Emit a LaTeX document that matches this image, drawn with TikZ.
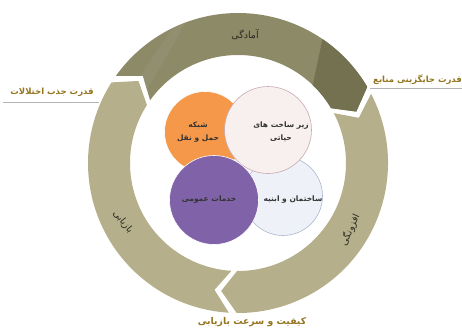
\documentclass[tikz,border=0pt]{standalone}
\usepackage{fontspec}
\newfontfamily\arabicfont[Script=Arabic]{DejaVu Sans}
\TeXXeTstate=1
\newcommand{\fa}[1]{\beginR #1\endR}
\definecolor{segdark}{HTML}{8D8A68}
\definecolor{segdeep}{HTML}{737150}
\definecolor{segstripe}{HTML}{99957A}
\definecolor{seglight}{HTML}{B5B08B}
\definecolor{goldtext}{HTML}{94741F}
\definecolor{ringtext}{HTML}{2A2A20}
\definecolor{orangefill}{HTML}{F6984A}
\definecolor{purplefill}{HTML}{7F62A8}
\definecolor{pinkfill}{HTML}{F8EFEF}
\definecolor{pinkline}{HTML}{C9A9B1}
\definecolor{bluefill}{HTML}{EEF2F8}
\definecolor{blueline}{HTML}{A9B7CE}
\definecolor{ruleline}{HTML}{B4B4B4}
\newcommand{\segpath}[2]{(#1-1.5:150) arc[start angle=#1-1.5, end angle=#2+1.5, radius=150] -- (#2+1.5-7:129) -- (#2+1.5:108) arc[start angle=#2+1.5, end angle=#1-1.5, radius=108] -- (#1-1.5-7:129) -- cycle}
\begin{document}
\begin{tikzpicture}[x=1pt,y=1pt,
  ringlbl/.style={font=\arabicfont\fontsize{9.5}{11}\selectfont, text=ringtext, inner sep=0pt},
  outlbl/.style={font=\arabicfont\bfseries\fontsize{8.5}{10}\selectfont, text=goldtext, inner sep=0pt},
  circlbl/.style={font=\arabicfont\bfseries\fontsize{7.5}{13}\selectfont, text=black!80, inner sep=0pt, align=center},
  bubble/.style={circle, inner sep=0pt, line width=0.6pt},
  rule/.style={draw=ruleline, line width=0.7pt}]
\useasboundingbox (0,0) rectangle (462,333);
% ring segments
\begin{scope}[shift={(238,170)}]
  \fill[segdark] \segpath{146}{29};
  \begin{scope}
    \clip \segpath{146}{29};
    \fill[segdeep] (54,-20) -- (94,169) -- (250,169) -- (250,-20) -- cycle;
    \fill[segstripe, opacity=0.45] (-130,40) -- (-45,165) -- (-38,165) -- (-110,40) -- cycle;
  \end{scope}
  \fill[seglight] \segpath{29}{-92};
  \fill[seglight] \segpath{268}{146};
  \node[ringlbl] (ready) at (7,128) {\fa{آمادگی}};
  \node[ringlbl, rotate=65] (redund) at (112,-67) {\fa{افزونگی}};
  \node[ringlbl, rotate=-52] (recov) at (-115,-59) {\fa{بازیابی}};
\end{scope}
% outer labels
\node[outlbl] (absorb) at (52,241) {\fa{قدرت جذب اختلالات}};
\draw[rule] (3,231) -- (99,231);
\node[outlbl, anchor=west] (subst) at (373,253) {\fa{قدرت جایگزینی منابع}};
\draw[rule] (370,245) -- (462,245);
\node[outlbl, font=\arabicfont\bfseries\fontsize{9.3}{11}\selectfont] (quality) at (252,11) {\fa{کیفیت و سرعت بازیابی}};
% circles
\node[bubble, fill=orangefill, draw=white, minimum size=81pt] (net) at (205,201) {};
\node[bubble, fill=bluefill, draw=blueline, minimum size=79pt] (bld) at (283,137) {};
\node[bubble, fill=pinkfill, draw=pinkline, minimum size=87pt] (infra) at (268,203) {};
\node[bubble, fill=purplefill, draw=white, minimum size=89pt] (pub) at (214,133) {};
\node[circlbl] (netT) at (198,201) {\fa{شبکه}\\\fa{حمل و نقل}};
\node[circlbl] (infraT) at (281,201) {\fa{زیر ساخت های}\\\fa{حیاتی}};
\node[circlbl] (pubT) at (209,133) {\fa{خدمات عمومی}};
\node[circlbl] (bldT) at (293,133) {\fa{ساختمان و ابنیه}};
\end{tikzpicture}
\end{document}
